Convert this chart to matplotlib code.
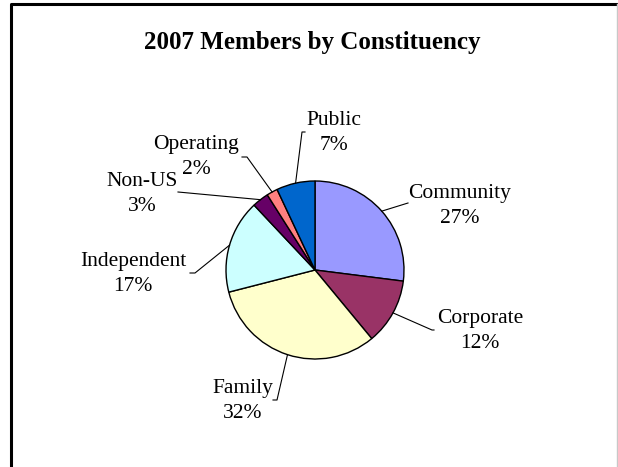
import numpy as np
import matplotlib

matplotlib.use("Agg")
import matplotlib.pyplot as plt

# slice data, clockwise from 12 o'clock
labels = ["Community", "Corporate", "Family", "Independent", "Non-US", "Operating", "Public"]
shares = [27, 12, 32, 17, 3, 2, 7]
colors = ["#9999FF", "#993366", "#FFFFCC", "#CCFFFF", "#660066", "#FF8080", "#0066CC"]

W, H = 618, 467
# label block centres and leader-line bends, in image pixels (y down)
label_pos = [(460, 206), (480, 331), (243, 401), (133, 274), (142, 194), (196, 157), (334, 133)]
leader_pts = [
    [(408, 203)],
    [(432, 330), (434, 330)],
    [(277, 400), (273, 400)],
    [(195, 273), (190, 273)],
    [(178, 192)],
    [(247, 157), (242, 157)],
    [(302, 132), (305, 132)],
]
CX, CY, R = 315, 270, 89


def py(y):
    return H - y


fig = plt.figure(figsize=(W / 100, H / 100), dpi=100)
ax = fig.add_axes([0, 0, 1, 1])
wedges, _ = ax.pie(
    shares, colors=colors, startangle=90, counterclock=False,
    center=(CX, py(CY)), radius=R,
    wedgeprops=dict(edgecolor="black", linewidth=1.0),
)
ax.set_xlim(0, W)
ax.set_ylim(0, H)
ax.set_aspect("equal")
ax.axis("off")

font = dict(family=["Liberation Serif", "DejaVu Serif"])
for w, lab, v, (lx, ly), pts in zip(wedges, labels, shares, label_pos, leader_pts):
    mid = np.deg2rad((w.theta1 + w.theta2) / 2)
    ex, ey = CX + R * np.cos(mid), py(CY) + R * np.sin(mid)
    xs = [ex] + [p[0] for p in pts]
    ys = [ey] + [py(p[1]) for p in pts]
    ax.plot(xs, ys, color="black", lw=0.8)
    ax.text(lx, py(ly), f"{lab}\n{v}%", ha="center", va="center",
            multialignment="center", fontsize=15.5, linespacing=1.42, **font)

ax.text(W / 2 + 3, py(43), "2007 Members by Constituency", ha="center", va="center",
        fontsize=18, fontweight="bold", **font)

# chart frame (cropped at the bottom)
ax.plot([11, 11, 617], [0, py(4), py(4)], color="black", lw=2.2, clip_on=False)
ax.plot([617, 617], [0, py(4)], color="#c8c8c8", lw=1, clip_on=False)

fig.savefig("out.png", dpi=100)
